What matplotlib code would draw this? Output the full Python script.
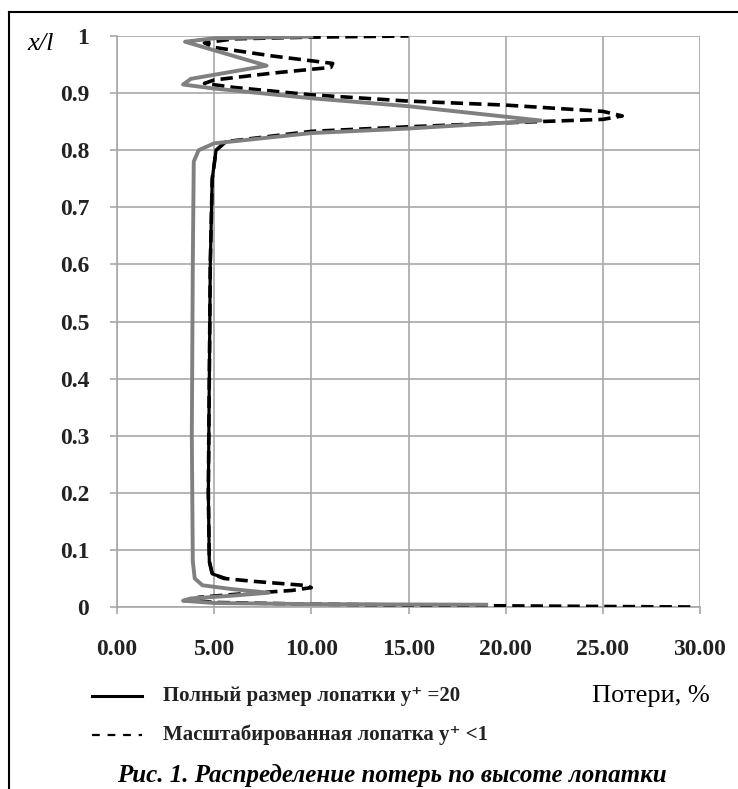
import matplotlib
matplotlib.use("Agg")
import matplotlib.pyplot as plt
from matplotlib.lines import Line2D

plt.rcParams["font.family"] = ["Liberation Serif", "DejaVu Serif"]

# масштабированная лопатка y+ < 1 (штрих)
dash_x = [29.5, 20, 10, 5, 3.9, 4.2, 6, 9, 10.0, 9.6, 7, 5.5, 4.9, 4.75, 4.7, 4.75, 4.8,
          4.9, 5.1, 5.6, 10, 15, 20, 25, 26.0, 25, 20, 15, 10, 6, 4.5, 5.0, 8, 11.0,
          11.1, 8, 5, 4.5, 6, 10, 15]
dash_y = [0.0, 0.002, 0.005, 0.008, 0.012, 0.017, 0.022, 0.029, 0.034, 0.038, 0.045,
          0.050, 0.058, 0.08, 0.2, 0.4, 0.6, 0.75, 0.8, 0.815, 0.833, 0.841, 0.848,
          0.854, 0.860, 0.868, 0.879, 0.886, 0.897, 0.91, 0.917, 0.923, 0.935, 0.945,
          0.952, 0.965, 0.98, 0.988, 0.995, 0.998, 1.0]

# полный размер лопатки y+ = 20 (сплошная)
solid_x = [5.6, 4.9, 4.75, 4.7, 4.75, 4.8, 4.9, 5.1, 5.6]
solid_y = [0.050, 0.058, 0.08, 0.2, 0.4, 0.6, 0.75, 0.8, 0.815]

# третья кривая (серая)
gray_x = [19, 10, 5, 3.4, 3.8, 6, 7.8, 6, 4.4, 4.0, 3.9, 3.85, 3.9, 3.95, 4.2, 5.0,
          10, 15, 21.8, 15, 10, 5, 3.4, 3.8, 7.7, 5, 3.5, 5, 10]
gray_y = [0.004, 0.005, 0.007, 0.011, 0.015, 0.020, 0.025, 0.031, 0.038, 0.05, 0.08,
          0.3, 0.6, 0.78, 0.80, 0.812, 0.830, 0.838, 0.852, 0.877, 0.891, 0.908,
          0.915, 0.925, 0.948, 0.975, 0.99, 0.996, 0.999]

x_ticks = [0, 5, 10, 15, 20, 25, 30]
x_labels = ["0.00", "5.00", "10.00", "15.00", "20.00", "25.00", "30.00"]
y_ticks = [0, 0.1, 0.2, 0.3, 0.4, 0.5, 0.6, 0.7, 0.8, 0.9, 1]
y_labels = ["0", "0.1", "0.2", "0.3", "0.4", "0.5", "0.6", "0.7", "0.8", "0.9", "1"]

W, H = 738, 789
fig = plt.figure(figsize=(W / 100, H / 100), dpi=100)
ax = fig.add_axes([117 / W, (H - 607) / H, (700 - 117) / W, (607 - 36) / H])

grid_c = "#a8a8a8"
ax.plot(solid_x, solid_y, color="black", lw=2.3, solid_capstyle="round",
        solid_joinstyle="round", zorder=3)
ax.plot(dash_x, dash_y, color="black", lw=2.6, dashes=(3.4, 1.7), zorder=3)
ax.plot(gray_x, gray_y, color="#808080", lw=2.8, solid_joinstyle="round", zorder=4)

ax.set_xlim(0, 30)
ax.set_ylim(0, 1)
ax.set_xticks(x_ticks)
ax.set_xticklabels(x_labels, fontsize=17, fontweight="bold", color="#222222")
ax.set_yticks(y_ticks)
ax.set_yticklabels(y_labels, fontsize=17, fontweight="bold", color="#222222")
ax.tick_params(axis="x", length=5, width=1.2, color=grid_c, pad=18)
ax.tick_params(axis="y", length=5, width=1.2, color=grid_c, pad=15)
ax.grid(True, color=grid_c, lw=1.2)
for s in ["top", "right"]:
    ax.spines[s].set_visible(False)
for s in ["left", "bottom"]:
    ax.spines[s].set_color(grid_c)
    ax.spines[s].set_linewidth(1.2)

fig.text(41 / W, 1 - 44 / H, "x/l", fontsize=19, style="italic", ha="center", va="center")

# легенда
y1 = 1 - 696 / H
y2 = 1 - 735 / H
fig.add_artist(Line2D([92 / W, 142 / W], [y1, y1], color="black", lw=2.2))
fig.add_artist(Line2D([92 / W, 142 / W], [y2, y2], color="black", lw=1.6, dashes=(3.5, 3.5)))
fig.text(163 / W, y1, "Полный размер лопатки y⁺ =20", fontsize=15, fontweight="bold",
         ha="left", va="center", color="#222222")
fig.text(163 / W, y2, "Масштабированная лопатка y⁺ <1", fontsize=15, fontweight="bold",
         ha="left", va="center", color="#222222")
fig.text(710 / W, y1, "Потери, %", fontsize=19, ha="right", va="center")

fig.text(392 / W, 1 - 775 / H, "Рис. 1. Распределение потерь по высоте лопатки",
         fontsize=18, fontweight="bold", style="italic", ha="center", va="center")

# рамка
fig.add_artist(Line2D([9 / W, 9 / W], [0, 1 - 12 / H], color="black", lw=1.5))
fig.add_artist(Line2D([9 / W, 1], [1 - 12 / H, 1 - 12 / H], color="black", lw=1.5))

fig.savefig("out.png", dpi=100)
